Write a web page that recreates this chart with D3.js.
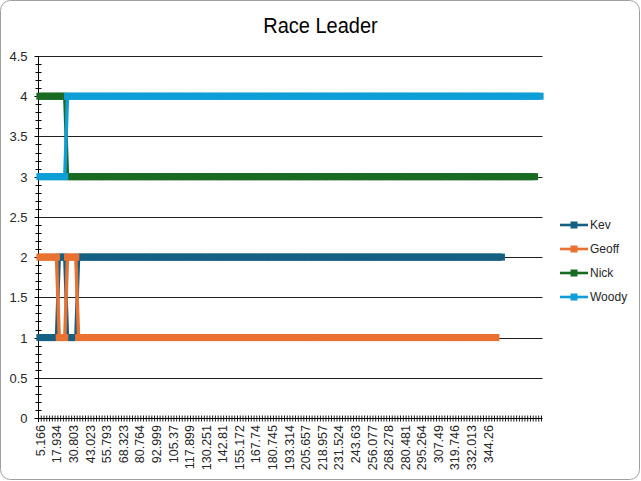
<!DOCTYPE html>
<html>
<head>
<meta charset="utf-8">
<script src="https://cdn.jsdelivr.net/npm/d3@7"></script>
<style>
  html, body { margin: 0; padding: 0; background: #fff; }
  svg { display: block; }
</style>
</head>
<body>
<svg id="chart" width="641" height="481"></svg>
<script>
// ---- data ----
const chartTitle = "Race Leader";
const seriesNames = ["Kev", "Geoff", "Nick", "Woody"];
const seriesColors = ["#156082", "#E97132", "#196B24", "#0F9ED5"];

// number of timing samples along the category axis
const categoryCount = 182;
// every sixth category carries a visible time label
const labelStep = 6;
const timeLabels = ["5.166", "17.934", "30.803", "43.023", "55.793", "68.323", "80.764",
  "92.999", "105.37", "117.899", "130.251", "142.81", "155.172", "167.74", "180.745",
  "193.314", "205.657", "218.957", "231.524", "243.63", "256.077", "268.278", "280.481",
  "295.264", "307.49", "319.746", "332.013", "344.26"];

const yTicks = [0, 0.5, 1, 1.5, 2, 2.5, 3, 3.5, 4, 4.5];

// position in the field at each sample
const kev = [
  1,1,1,1,1, 1,1,2,2,2, 1,1,1,1,2, 2,2,2,2,2,
  2,2,2,2,2, 2,2,2,2,2, 2,2,2,2,2, 2,2,2,2,2,
  2,2,2,2,2, 2,2,2,2,2, 2,2,2,2,2, 2,2,2,2,2,
  2,2,2,2,2, 2,2,2,2,2, 2,2,2,2,2, 2,2,2,2,2,
  2,2,2,2,2, 2,2,2,2,2, 2,2,2,2,2, 2,2,2,2,2,
  2,2,2,2,2, 2,2,2,2,2, 2,2,2,2,2, 2,2,2,2,2,
  2,2,2,2,2, 2,2,2,2,2, 2,2,2,2,2, 2,2,2,2,2,
  2,2,2,2,2, 2,2,2,2,2, 2,2,2,2,2, 2,2,2,2,2,
  2,2,2,2,2, 2,2,2
];
const geoff = [
  2,2,2,2,2, 2,2,1,1,1, 2,2,2,2,1, 1,1,1,1,1,
  1,1,1,1,1, 1,1,1,1,1, 1,1,1,1,1, 1,1,1,1,1,
  1,1,1,1,1, 1,1,1,1,1, 1,1,1,1,1, 1,1,1,1,1,
  1,1,1,1,1, 1,1,1,1,1, 1,1,1,1,1, 1,1,1,1,1,
  1,1,1,1,1, 1,1,1,1,1, 1,1,1,1,1, 1,1,1,1,1,
  1,1,1,1,1, 1,1,1,1,1, 1,1,1,1,1, 1,1,1,1,1,
  1,1,1,1,1, 1,1,1,1,1, 1,1,1,1,1, 1,1,1,1,1,
  1,1,1,1,1, 1,1,1,1,1, 1,1,1,1,1, 1,1,1,1,1,
  1,1,1,1,1, 1
];
const nick = [
  4,4,4,4,4, 4,4,4,4,4, 3,3,3,3,3, 3,3,3,3,3,
  3,3,3,3,3, 3,3,3,3,3, 3,3,3,3,3, 3,3,3,3,3,
  3,3,3,3,3, 3,3,3,3,3, 3,3,3,3,3, 3,3,3,3,3,
  3,3,3,3,3, 3,3,3,3,3, 3,3,3,3,3, 3,3,3,3,3,
  3,3,3,3,3, 3,3,3,3,3, 3,3,3,3,3, 3,3,3,3,3,
  3,3,3,3,3, 3,3,3,3,3, 3,3,3,3,3, 3,3,3,3,3,
  3,3,3,3,3, 3,3,3,3,3, 3,3,3,3,3, 3,3,3,3,3,
  3,3,3,3,3, 3,3,3,3,3, 3,3,3,3,3, 3,3,3,3,3,
  3,3,3,3,3, 3,3,3,3,3, 3,3,3,3,3, 3,3,3,3,3
];
const woody = [
  3,3,3,3,3, 3,3,3,3,3, 4,4,4,4,4, 4,4,4,4,4,
  4,4,4,4,4, 4,4,4,4,4, 4,4,4,4,4, 4,4,4,4,4,
  4,4,4,4,4, 4,4,4,4,4, 4,4,4,4,4, 4,4,4,4,4,
  4,4,4,4,4, 4,4,4,4,4, 4,4,4,4,4, 4,4,4,4,4,
  4,4,4,4,4, 4,4,4,4,4, 4,4,4,4,4, 4,4,4,4,4,
  4,4,4,4,4, 4,4,4,4,4, 4,4,4,4,4, 4,4,4,4,4,
  4,4,4,4,4, 4,4,4,4,4, 4,4,4,4,4, 4,4,4,4,4,
  4,4,4,4,4, 4,4,4,4,4, 4,4,4,4,4, 4,4,4,4,4,
  4,4,4,4,4, 4,4,4,4,4, 4,4,4,4,4, 4,4,4,4,4,
  4,4
];
const seriesValues = [kev, geoff, nick, woody];

// ---- layout ----
const W = 641, H = 481;
const plot = { left: 38.5, right: 541.5, top: 56, bottom: 418 };
const axisFont = "'Liberation Sans', Arial, sans-serif";

const svg = d3.select("#chart");

// chart area frame
svg.append("rect")
  .attr("x", 0.5).attr("y", 0.5)
  .attr("width", W - 2).attr("height", H - 2)
  .attr("rx", 10).attr("ry", 10)
  .attr("fill", "#fff")
  .attr("stroke", "#a0a0a0")
  .attr("stroke-width", 1);

// title
svg.append("text")
  .attr("transform", "translate(320.5,33) scale(1,1.08)")
  .attr("text-anchor", "middle")
  .attr("font-family", axisFont)
  .attr("font-size", 20)
  .attr("fill", "#000")
  .text(chartTitle);

const x = d3.scaleBand()
  .domain(d3.range(categoryCount))
  .range([plot.left, plot.right]);
const cx = i => x(i) + x.bandwidth() / 2;

const y = d3.scaleLinear().domain([0, 4.5]).range([plot.bottom, plot.top]);
const crisp = v => Math.round(v) + 0.5;

// horizontal gridlines
svg.append("g")
  .selectAll("line")
  .data(yTicks.filter(v => v > 0))
  .join("line")
  .attr("x1", plot.left).attr("x2", plot.right + 1)
  .attr("y1", d => crisp(y(d))).attr("y2", d => crisp(y(d)))
  .attr("stroke", "#202020")
  .attr("stroke-width", 1);

// vertical axis with major ticks and labels
const yAxis = d3.axisLeft(y)
  .tickValues(yTicks)
  .tickSize(4)
  .tickPadding(7)
  .tickFormat(d3.format("~g"));
const yAxisG = svg.append("g")
  .attr("transform", `translate(${plot.left},0)`)
  .call(yAxis);
yAxisG.select(".domain").remove();
yAxisG.selectAll(".tick line").attr("stroke", "#000");
yAxisG.selectAll(".tick").attr("transform", d => `translate(0,${crisp(y(d))})`);
yAxisG.selectAll(".tick text")
  .attr("font-family", axisFont)
  .attr("font-size", 13)
  .attr("fill", "#262626");
yAxisG.append("line")
  .attr("x1", 0).attr("x2", 0)
  .attr("y1", y(4.5)).attr("y2", y(0) + 4)
  .attr("stroke", "#000");

// minor ticks on the vertical axis (crossing)
const minorY = d3.range(0, 46).map(k => k / 10).filter(v => Math.abs(v * 2 - Math.round(v * 2)) > 1e-6);
svg.append("g")
  .selectAll("line")
  .data(minorY)
  .join("line")
  .attr("x1", plot.left - 3).attr("x2", plot.left + 3)
  .attr("y1", d => crisp(y(d))).attr("y2", d => crisp(y(d)))
  .attr("stroke", "#000");

// horizontal category axis
const xAxisY = crisp(y(0));
svg.append("line")
  .attr("x1", plot.left).attr("x2", plot.right + 1)
  .attr("y1", xAxisY).attr("y2", xAxisY)
  .attr("stroke", "#000");
svg.append("g")
  .selectAll("line")
  .data(d3.range(categoryCount + 1))
  .join("line")
  .attr("x1", i => (i < categoryCount ? x(i) : plot.right))
  .attr("x2", i => (i < categoryCount ? x(i) : plot.right))
  .attr("y1", xAxisY - 3).attr("y2", xAxisY + 3)
  .attr("stroke", "#000")
  .attr("stroke-width", 0.9);

// rotated category labels
svg.append("g")
  .selectAll("text")
  .data(timeLabels)
  .join("text")
  .attr("transform", (d, k) => `translate(${cx(k * labelStep) + 1},425) rotate(-90)`)
  .attr("text-anchor", "end")
  .attr("dominant-baseline", "central")
  .attr("font-family", axisFont)
  .attr("font-size", 12.5)
  .attr("fill", "#262626")
  .text(d => d);

// series lines with square markers
const line = d3.line().x((d, i) => cx(i)).y(d => y(d));
const markerSize = 7;
seriesValues.forEach((vals, s) => {
  const g = svg.append("g");
  g.append("path")
    .datum(vals)
    .attr("d", line)
    .attr("fill", "none")
    .attr("stroke", seriesColors[s])
    .attr("stroke-width", 3.4)
    .attr("stroke-linejoin", "round");
  g.selectAll("rect")
    .data(vals)
    .join("rect")
    .attr("x", (d, i) => cx(i) - markerSize / 2)
    .attr("y", d => y(d) - markerSize / 2)
    .attr("width", markerSize).attr("height", markerSize)
    .attr("fill", seriesColors[s]);
});

// legend
const legend = svg.append("g");
seriesNames.forEach((name, s) => {
  const ly = 225 + s * 24;
  legend.append("line")
    .attr("x1", 560).attr("x2", 588)
    .attr("y1", ly).attr("y2", ly)
    .attr("stroke", seriesColors[s])
    .attr("stroke-width", 2.6);
  legend.append("rect")
    .attr("x", 574 - 3.5).attr("y", ly - 3.5)
    .attr("width", 7).attr("height", 7)
    .attr("fill", seriesColors[s]);
  legend.append("text")
    .attr("x", 590).attr("y", ly)
    .attr("dominant-baseline", "central")
    .attr("font-family", axisFont)
    .attr("font-size", 12)
    .attr("fill", "#262626")
    .text(name);
});
</script>
</body>
</html>
